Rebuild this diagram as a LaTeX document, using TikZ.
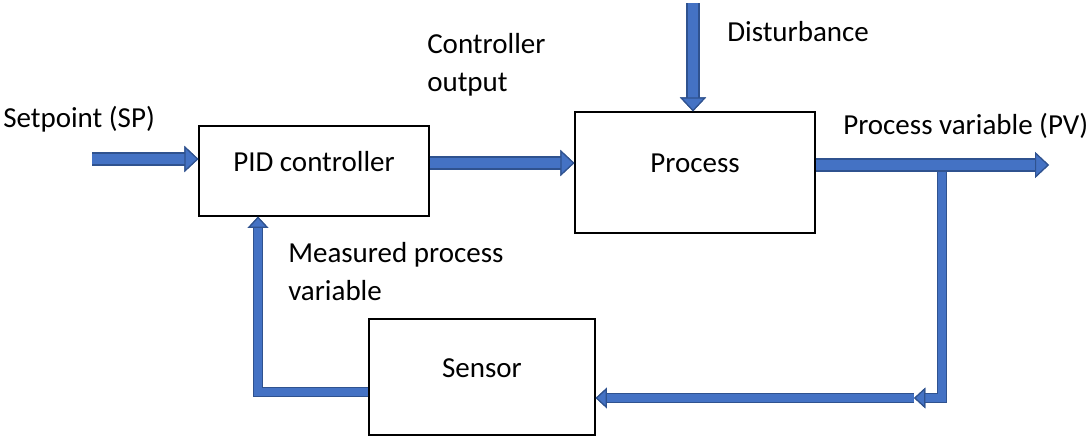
\documentclass[tikz,border=0pt]{standalone}
\usepackage{fontspec}
\setmainfont{Carlito}
\usetikzlibrary{arrows.meta}
\definecolor{afill}{HTML}{4472C4}
\definecolor{aline}{HTML}{2F528F}
\begin{document}
\begin{tikzpicture}[x=0.75pt,y=-0.75pt,
  every node/.style={font=\fontsize{21.75}{28}\selectfont, inner sep=0pt},
  box/.style={draw=black, line width=0.9pt, fill=white, text height=14pt, text depth=14pt},
  lbl/.style={anchor=base west, align=left},
  barrow/.style={draw=afill, line width=8pt, line join=miter,
     preaction={draw=aline, line width=10pt, -{Triangle[width=19.5pt,length=10.5pt,line width=0.9pt]}},
     -{Triangle[width=19.5pt,length=10.5pt,line width=0.9pt,fill=afill,color=aline]}},
  sarrow/.style={draw=afill, line width=6pt, line join=miter,
     preaction={draw=aline, line width=8pt, -{Triangle[width=15.5pt,length=8.5pt,line width=0.9pt]}},
     -{Triangle[width=15.5pt,length=8.5pt,line width=0.9pt,fill=afill,color=aline]}},
  sline/.style={draw=afill, line width=6pt, line join=miter,
     preaction={draw=aline, line width=8pt}},
]
\useasboundingbox (0,0) rectangle (1089,436);
% boxes
\node[box, minimum width=172.5pt, minimum height=67.5pt] (pid) at (314,171) {PID controller};
\node[box, minimum width=180pt, minimum height=90.75pt] (proc) at (695,172.5) {Process};
\node[box, minimum width=169.5pt, minimum height=87pt] (sens) at (482,377) {Sensor};
% coordinates
\coordinate (spstart) at (92,159);
\coordinate (pvend) at (1049,165);
\coordinate (dtop) at (693,3);
\coordinate (br) at (942,170);
\coordinate (brc) at (942,398);
\coordinate (mid) at (914,398);
\coordinate (mc) at (258,392);
% connectors
\draw[barrow] (spstart) -- (spstart -| pid.west);
\draw[barrow] (pid.east |- 0,163) -- (proc.west |- 0,163);
\draw[sarrow] (br) -- (brc) -- (mid);
\draw[barrow] (proc.east |- 0,165) -- (pvend);
\draw[barrow] (dtop) -- (dtop |- proc.north);
\draw[sarrow] (mid) -- (mid -| sens.east);
\draw[sarrow] (sens.west |- mc) -- (mc) -- (mc |- pid.south);
% labels
\node[lbl] (sp) at (3,127) {Setpoint (SP)};
\node[lbl] (co) at (427,91) {Controller\\output};
\node[lbl] (dist) at (727,41) {Disturbance};
\node[lbl] (pv) at (843,134) {Process variable (PV)};
\node[lbl] (mpv) at (288,300) {Measured process\\variable};
\end{tikzpicture}
\end{document}
